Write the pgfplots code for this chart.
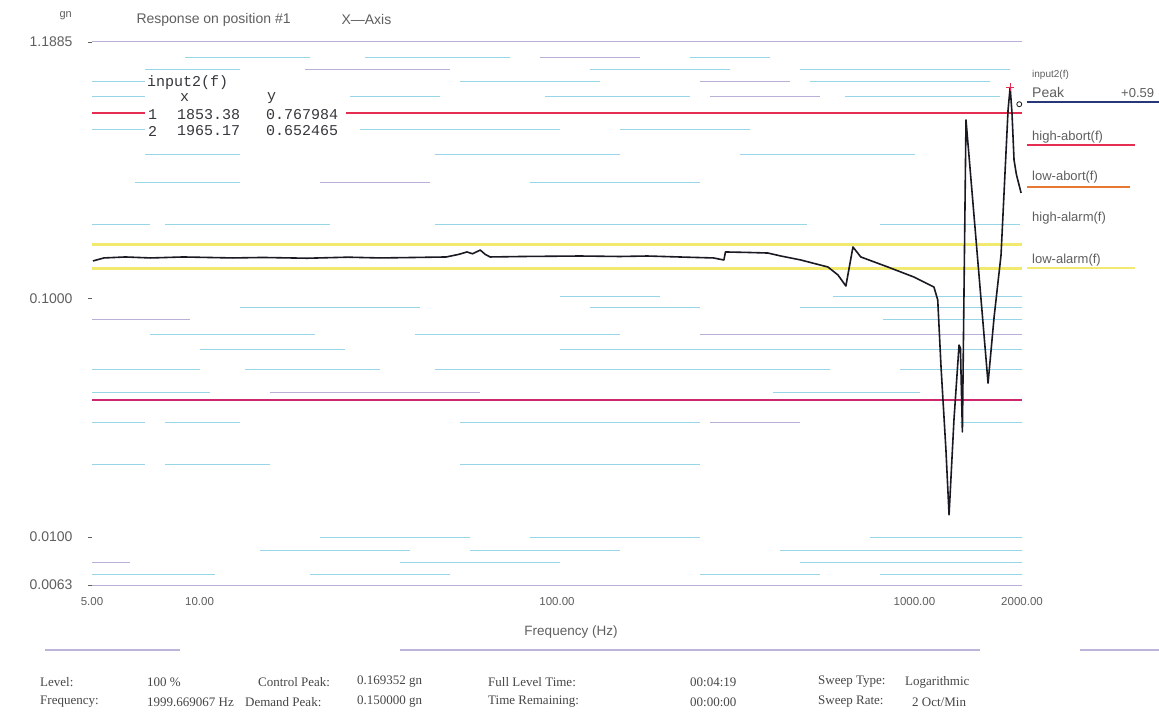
\documentclass[border=0pt]{standalone}
\usepackage{pgfplots}
\pgfplotsset{compat=1.18}
\usepackage{fontspec}
\setmainfont{Liberation Sans}
\newfontfamily\serifb{Liberation Serif}
\newfontfamily\monob{Liberation Mono}
\definecolor{txt}{RGB}{95,95,95}
\definecolor{curvecol}{RGB}{25,25,35}
\definecolor{abortred}{RGB}{228,45,80}
\definecolor{lowabortcol}{RGB}{205,40,110}
\definecolor{alarmyel}{RGB}{242,234,110}
\definecolor{gpurp}{RGB}{190,180,218}
\definecolor{peakblue}{RGB}{40,55,120}
\definecolor{orng}{RGB}{230,120,50}
\newcommand\segc[3]{\addplot[draw={rgb,255:red,150;green,214;blue,230}, line width=1.0pt, forget plot] coordinates {(#1,#3) (#2,#3)};}
\newcommand\segp[3]{\addplot[draw={rgb,255:red,185;green,175;blue,215}, line width=1.0pt, forget plot] coordinates {(#1,#3) (#2,#3)};}
\begin{document}
\begin{tikzpicture}[x=1pt,y=1pt]
\useasboundingbox (0,0) rectangle (1159,719);
\fill[white] (0,0) rectangle (1159,719);
% faint printed grid streaks (pixel-coordinate overlay axis)
\begin{axis}[at={(92pt,134pt)}, anchor=south west, scale only axis,
  width=930pt, height=543pt, xmin=92, xmax=1022, ymin=42, ymax=585,
  y dir=reverse, hide axis, clip=false]
\segp{92}{1022}{42}
\segp{92}{1022}{585}
\segc{185}{310}{58}\segc{365}{510}{58}\segp{540}{640}{58}\segc{690}{770}{58}
\segc{145}{240}{70}\segp{305}{450}{70}\segc{590}{730}{70}\segc{800}{1010}{70}
\segc{92}{145}{82}\segc{460}{600}{82}\segp{700}{790}{82}\segc{810}{990}{82}
\segc{92}{145}{97}\segc{350}{440}{97}\segc{545}{690}{97}\segp{710}{820}{97}\segc{845}{1000}{97}
\segc{92}{145}{130}\segc{360}{560}{130}\segc{620}{750}{130}
\segc{145}{240}{155}\segc{435}{620}{155}\segc{740}{915}{155}
\segc{135}{240}{183}\segp{320}{430}{183}\segc{530}{700}{183}
\segc{92}{150}{225}\segc{165}{330}{225}\segc{435}{807}{225}\segc{880}{1020}{225}
\segc{560}{660}{297}\segc{833}{1022}{297}
\segc{240}{420}{308}\segc{590}{700}{308}\segc{800}{1022}{308}
\segp{92}{190}{320}\segc{883}{1022}{320}
\segc{150}{315}{335}\segc{415}{620}{335}\segp{700}{1022}{335}
\segc{200}{345}{350}\segc{560}{1022}{350}
\segc{92}{200}{370}\segc{245}{380}{370}\segc{435}{830}{370}\segc{900}{1022}{370}
\segc{92}{210}{393}\segp{270}{480}{393}\segc{773}{920}{393}
\segc{92}{145}{423}\segc{165}{240}{423}\segc{460}{700}{423}\segp{710}{800}{423}\segc{960}{1022}{423}
\segc{92}{145}{465}\segc{165}{270}{465}\segc{460}{700}{465}
\segc{320}{470}{537}\segc{530}{700}{537}\segc{870}{1022}{537}
\segc{260}{410}{550}\segc{470}{620}{550}\segc{780}{1022}{550}
\segp{92}{130}{562}\segc{400}{560}{562}\segc{800}{1022}{562}
\segc{92}{215}{574}\segc{310}{450}{574}\segc{700}{820}{574}\segc{880}{1022}{574}
\end{axis}
% main data axis
\begin{axis}[at={(92pt,134pt)}, anchor=south west, scale only axis,
  width=930pt, height=543pt, xmode=log, ymode=log,
  xmin=5, xmax=2000, ymin=0.0063, ymax=1.1885,
  axis line style={draw=none},
  xtick={5,10,100,1000,2000},
  xticklabels={5.00,10.00,100.00,1000.00,2000.00},
  ytick={0.0063,0.01,0.1,1.1885},
  yticklabels={0.0063,0.0100,0.1000,1.1885},
  xminorticks=false, yminorticks=false,
  xtick style={draw=none}, ytick pos=left, tick align=outside,
  major tick length=4pt, ytick style={draw=txt, line width=0.6pt},
  ticklabel style={text=txt},
  yticklabel style={font=\fontsize{14}{16}\selectfont, xshift=-12pt},
  xticklabel style={font=\fontsize{11.5}{13}\selectfont, yshift=-5pt},
]
\addplot[draw=alarmyel, line width=2.2pt] coordinates {(5,0.1683) (2000,0.1683)};
\addplot[draw=alarmyel, line width=2.2pt] coordinates {(5,0.1337) (2000,0.1337)};
\addplot[draw=abortred, line width=1.8pt] coordinates {(5,0.597) (2000,0.597)};
\addplot[draw=lowabortcol, line width=1.8pt] coordinates {(5,0.0377) (2000,0.0377)};
\addplot[draw=curvecol, line width=1.6pt, line join=round] coordinates {
(5.03,0.1437) (5.4,0.1479) (6.2,0.1493) (7.3,0.1479) (9.0,0.1493)
(12.4,0.1479) (15,0.1486) (20,0.1475) (26,0.1490) (32,0.1479)
(40,0.1486) (49,0.1493) (53,0.1530) (56,0.1567) (58,0.1540)
(61,0.1596) (63,0.1530) (65,0.1493) (80,0.1500) (116,0.1507)
(150,0.1500) (179,0.1507) (230,0.1490) (274,0.1479) (293,0.1450)
(296,0.1567) (340,0.1560) (389,0.1551) (423,0.1507) (481,0.1450)
(573,0.1355) (611,0.1255) (643,0.1128) (673,0.1644) (708,0.1493)
(843,0.1355) (997,0.1230) (1134,0.1117) (1162,0.0986) (1187,0.0516)
(1225,0.0232) (1250,0.0124) (1290,0.0310) (1333,0.0638) (1345,0.0620)
(1362,0.0276) (1394,0.560) (1607,0.0442) (1671,0.0837) (1747,0.1521)
(1828,0.6166) (1853,0.768) (1875,0.60) (1900,0.38) (1930,0.33)
(1988,0.277)};
\addplot[draw=abortred, only marks, mark=+, mark size=4pt, line width=0.8pt] coordinates {(1853,0.768)};
\addplot[draw=curvecol, only marks, mark=o, mark size=2.5pt, line width=0.8pt] coordinates {(1965,0.652)};
\end{axis}
% title
\node[anchor=west, text=txt, font=\fontsize{11}{12}\selectfont] at (56,703) {gn};
\node[anchor=west, text=txt, font=\fontsize{14}{16}\selectfont] at (133,699) {Response on position \#1};
\node[anchor=west, text=txt, font=\fontsize{14}{16}\selectfont] at (338,699) {X\textemdash Axis};
% cursor table
\fill[white] (145,579) rectangle (346,646);
\begin{scope}[every node/.style={anchor=west, text={rgb,255:red,55;green,55;blue,60}, font=\monob\fontsize{15}{16}\selectfont, inner sep=0pt}]
\node at (147,636) {input2(f)};
\node at (180,621) {x};
\node at (267,621) {y};
\node at (148,604) {1};
\node at (177,604) {1853.38};
\node at (266,604) {0.767984};
\node at (148,588) {2};
\node at (177,588) {1965.17};
\node at (266,588) {0.652465};
\end{scope}
% right legend
\begin{scope}[every node/.style={anchor=west, text=txt, font=\fontsize{13}{15}\selectfont, inner sep=0pt}]
\node[font=\fontsize{10}{12}\selectfont] at (1032,644) {input2(f)};
\node[font=\fontsize{14}{16}\selectfont] at (1032,626) {Peak};
\node at (1121,626) {+0.59};
\node at (1032,582) {high-abort(f)};
\node at (1032,542) {low-abort(f)};
\node at (1032,501) {high-alarm(f)};
\node at (1032,459) {low-alarm(f)};
\end{scope}
\draw[peakblue, line width=2pt] (1027,617) -- (1159,617);
\draw[abortred, line width=1.6pt] (1027,574) -- (1135,574);
\draw[orng, line width=1.6pt] (1027,532) -- (1130,532);
\draw[alarmyel, line width=1.4pt] (1027,451) -- (1135,451);
% x label and divider
\node[text=txt, font=\fontsize{13.5}{15}\selectfont] at (571,87) {Frequency (Hz)};
\draw[gpurp, line width=1.2pt] (45,69) -- (180,69);
\draw[gpurp, line width=1.2pt] (400,69) -- (980,69);
\draw[gpurp, line width=1.2pt] (1080,69) -- (1159,69);
% bottom info
\begin{scope}[every node/.style={anchor=west, text={rgb,255:red,70;green,70;blue,70}, font=\serifb\fontsize{13}{15}\selectfont, inner sep=0pt}]
\node at (40,37) {Level:};
\node at (147,37) {100 \%};
\node at (258,37) {Control Peak:};
\node at (357,37) {0.169352 gn};
\node at (488,37) {Full Level Time:};
\node at (690,37) {00:04:19};
\node at (818,37) {Sweep Type:};
\node at (905,37) {Logarithmic};
\node at (40,17) {Frequency:};
\node at (147,17) {1999.669067 Hz};
\node at (245,17) {Demand Peak:};
\node at (357,17) {0.150000 gn};
\node at (488,17) {Time Remaining:};
\node at (690,17) {00:00:00};
\node at (818,17) {Sweep Rate:};
\node at (912,17) {2 Oct/Min};
\end{scope}
\end{tikzpicture}
\end{document}
